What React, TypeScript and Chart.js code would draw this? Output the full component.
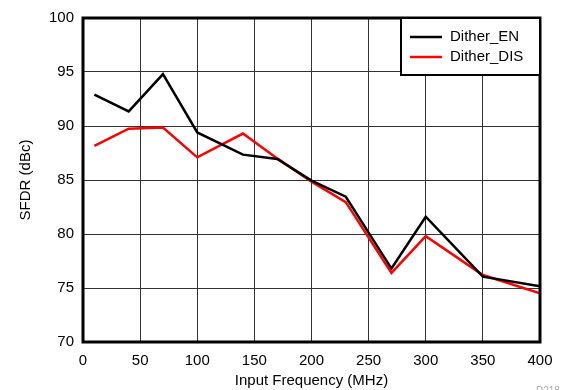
import React, { useEffect, useRef } from "react";
import { Chart, registerables } from "chart.js";

Chart.register(...registerables);

const freqMHz = [10, 40, 70, 100, 140, 170, 200, 230, 270, 300, 350, 400];
const ditherEN = [92.9, 91.35, 94.8, 89.4, 87.35, 86.95, 84.95, 83.45, 76.8, 81.6, 76.05, 75.15];
const ditherDIS = [88.15, 89.75, 89.85, 87.1, 89.3, 87.0, 84.85, 82.95, 76.4, 79.8, 76.2, 74.5];
const xTicks = [0, 50, 100, 150, 200, 250, 300, 350, 400];
const yTicks = [70, 75, 80, 85, 90, 95, 100];
const seriesLabels = ["Dither_EN", "Dither_DIS"];
const seriesColors = ["#000000", "#ff0000"];

const FONT = "'Liberation Sans', Arial, Helvetica, sans-serif";

const framePlugin = {
  id: "frameAndLegend",
  afterDatasetsDraw(chart: any) {
    const { ctx, chartArea } = chart;
    ctx.save();
    // plot frame
    ctx.strokeStyle = "#000";
    ctx.lineWidth = 3;
    ctx.strokeRect(chartArea.left, chartArea.top, chartArea.right - chartArea.left, chartArea.bottom - chartArea.top);
    // legend box
    const bx = 401, by = chartArea.top, bw = chartArea.right - 401, bh = 57;
    ctx.fillStyle = "#fff";
    ctx.fillRect(bx, by, bw, bh);
    ctx.lineWidth = 2;
    ctx.strokeRect(bx, by, bw, bh);
    ctx.font = `15px ${FONT}`;
    ctx.textBaseline = "middle";
    ctx.textAlign = "left";
    chart.data.datasets.forEach((ds: any, i: number) => {
      const y = by + 19 + i * 20;
      ctx.strokeStyle = ds.borderColor;
      ctx.lineWidth = 2.5;
      ctx.beginPath();
      ctx.moveTo(410, y);
      ctx.lineTo(442, y);
      ctx.stroke();
      ctx.fillStyle = "#000";
      ctx.fillText(ds.label, 450, y);
    });
    // doc code
    ctx.font = `10px ${FONT}`;
    ctx.fillStyle = "#aaa";
    ctx.textAlign = "left";
    ctx.textBaseline = "alphabetic";
    ctx.fillText("D218", 536, 394);
    ctx.restore();
  },
};

export default function App() {
  const ref = useRef<HTMLCanvasElement | null>(null);
  useEffect(() => {
    document.body.style.margin = "0";
    const chart = new Chart(ref.current as HTMLCanvasElement, {
      type: "line",
      data: {
        datasets: [
          {
            label: seriesLabels[0],
            data: freqMHz.map((x, i) => ({ x, y: ditherEN[i] })),
            borderColor: seriesColors[0],
            backgroundColor: seriesColors[0],
            borderWidth: 2.5,
            pointRadius: 0,
            tension: 0,
          },
          {
            label: seriesLabels[1],
            data: freqMHz.map((x, i) => ({ x, y: ditherDIS[i] })),
            borderColor: seriesColors[1],
            backgroundColor: seriesColors[1],
            borderWidth: 2.5,
            pointRadius: 0,
            tension: 0,
          },
        ],
      },
      options: {
        responsive: false,
        animation: false,
        layout: { padding: { left: 0, right: 31, top: 17, bottom: 0 } },
        plugins: { legend: { display: false }, tooltip: { enabled: false } },
        scales: {
          x: {
            type: "linear",
            min: 0,
            max: 400,
            afterBuildTicks: (s: any) => {
              s.ticks = xTicks.map((v) => ({ value: v }));
            },
            afterFit: (s: any) => {
              s.height = 48;
            },
            grid: { color: "#333", lineWidth: 1, drawTicks: false },
            border: { display: false },
            ticks: { color: "#000", font: { family: FONT, size: 15 }, padding: 10, maxRotation: 0 },
            title: {
              display: true,
              text: "Input Frequency (MHz)",
              color: "#000",
              font: { family: FONT, size: 15 },
              padding: { top: 0, bottom: 0 },
            },
          },
          y: {
            type: "linear",
            min: 70,
            max: 100,
            afterBuildTicks: (s: any) => {
              s.ticks = yTicks.map((v) => ({ value: v }));
            },
            afterFit: (s: any) => {
              s.width = 83;
            },
            grid: { color: "#333", lineWidth: 1, drawTicks: false },
            border: { display: false },
            ticks: { color: "#000", font: { family: FONT, size: 15 }, padding: 9 },
            title: {
              display: true,
              text: "SFDR (dBc)",
              color: "#000",
              font: { family: FONT, size: 15 },
              padding: { top: 17, bottom: 0 },
            },
          },
        },
      },
      plugins: [framePlugin],
    });
    return () => chart.destroy();
  }, []);
  return (
    <div style={{ position: "fixed", left: 0, top: 0, width: 571, height: 390, background: "#fff" }}>
      <canvas ref={ref} width={571} height={390} style={{ display: "block" }} />
    </div>
  );
}
